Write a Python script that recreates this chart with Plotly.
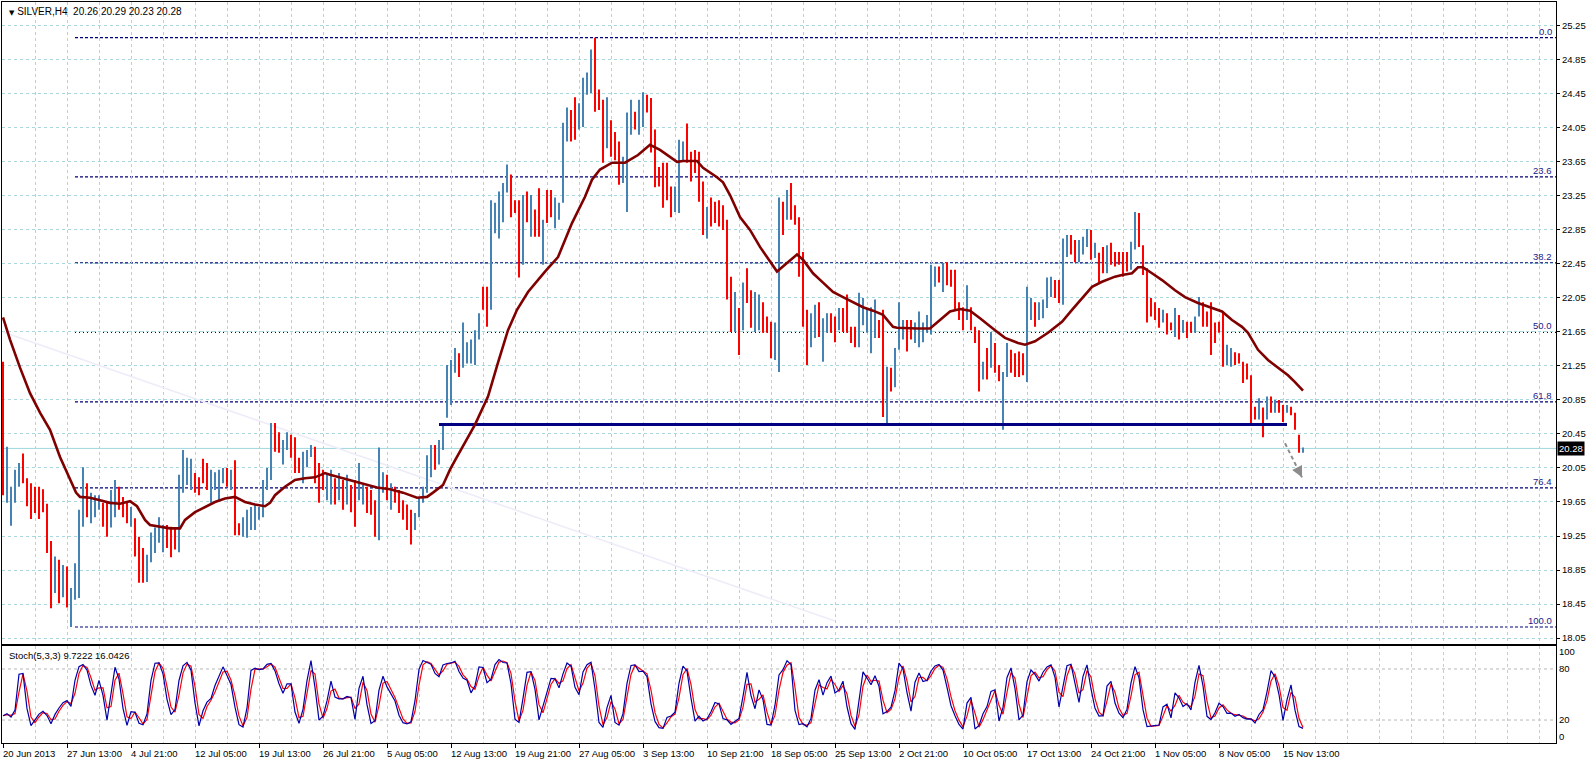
import numpy as np
import pandas as pd
import plotly.graph_objects as go

# ---------------- data (H4 bars merged in pairs) ----------------
symbol_title = "SILVER,H4"
last_ohlc = [20.26, 20.29, 20.23, 20.28]

highs = [
    21.30, 20.30, 19.83, 20.03, 20.11, 20.22, 19.93, 19.87, 19.83, 19.83,
    19.80, 19.63, 19.19, 19.01, 18.97, 18.91, 18.89, 18.64, 18.93, 19.56,
    20.06, 19.87, 19.76, 19.73, 19.73, 19.64, 19.64, 19.79, 19.91, 19.83,
    19.71, 19.64, 19.59, 19.46, 19.24, 19.11, 19.03, 19.29, 19.35, 19.47,
    19.38, 19.38, 19.36, 19.35, 19.97, 20.26, 20.17, 20.16, 19.99, 19.94,
    20.16, 20.11, 20.03, 20.00, 20.03, 20.05, 20.05, 20.03, 20.14, 19.40,
    19.47, 19.56, 19.59, 19.62, 19.59, 19.91, 20.05, 20.58, 20.58, 20.47,
    20.38, 20.47, 20.44, 20.41, 20.17, 20.24, 20.26, 20.32, 20.30, 20.11,
    20.03, 19.99, 20.03, 19.93, 19.99, 19.91, 19.97, 19.85, 19.91, 20.11,
    19.85, 19.83, 19.79, 19.67, 20.29, 20.00, 19.97, 19.87, 19.83, 19.79,
    19.67, 19.62, 19.56, 19.52, 19.71, 19.83, 20.20, 20.32, 20.32, 20.38,
    20.56, 21.26, 21.32, 21.46, 21.40, 21.76, 21.53, 21.56, 21.67, 21.87,
    22.18, 22.18, 23.20, 23.17, 23.30, 23.40, 23.62, 23.50, 23.20, 23.20,
    23.26, 23.30, 23.26, 23.09, 23.34, 22.97, 23.32, 23.32, 23.23, 23.17,
    24.11, 24.29, 24.26, 24.41, 24.34, 24.64, 24.70, 24.97, 25.11, 24.50,
    24.38, 24.41, 24.14, 24.00, 23.89, 23.71, 24.23, 24.38, 24.24, 24.38,
    24.47, 24.44, 24.40, 24.03, 23.59, 23.64, 23.64, 23.36, 23.36, 23.91,
    23.89, 24.10, 23.77, 23.79, 23.77, 23.42, 23.12, 23.23, 23.18, 23.20,
    23.14, 22.97, 22.30, 22.12, 21.93, 22.23, 22.40, 22.14, 22.12, 22.09,
    22.00, 21.83, 21.77, 21.76, 23.23, 23.18, 23.32, 23.40, 23.14, 23.00,
    22.59, 21.91, 21.87, 21.97, 22.00, 21.81, 21.87, 21.87, 21.83, 21.93,
    21.93, 22.09, 21.71, 21.71, 22.11, 22.05, 21.93, 21.94, 22.03, 21.79,
    21.91, 21.24, 21.23, 21.46, 22.00, 21.79, 21.79, 21.79, 21.76, 21.89,
    21.76, 21.85, 22.44, 22.42, 22.42, 22.46, 22.47, 22.38, 22.38, 22.00,
    21.94, 22.20, 21.94, 21.71, 21.67, 21.30, 21.46, 21.65, 21.52, 21.26,
    21.18, 21.52, 21.44, 21.40, 21.42, 21.40, 22.18, 22.05, 22.00, 22.00,
    22.03, 22.29, 22.30, 22.26, 22.26, 22.75, 22.79, 22.79, 22.73, 22.73,
    22.77, 22.86, 22.85, 22.70, 22.58, 22.65, 22.67, 22.70, 22.59, 22.59,
    22.59, 22.59, 22.71, 23.06, 23.05, 22.67, 22.40, 22.05, 22.00, 21.93,
    21.91, 21.87, 21.76, 21.93, 21.85, 21.79, 21.77, 21.77, 21.83, 22.06,
    22.00, 21.89, 22.00, 21.76, 21.77, 21.89, 21.50, 21.46, 21.41, 21.40,
    21.30, 21.28, 21.14, 20.77, 20.87, 20.76, 20.89, 20.89, 20.85, 20.85,
    20.79, 20.79, 20.77, 20.70, 20.44, 20.29,
]
lows = [
    19.73, 19.64, 19.37, 19.64, 19.83, 19.87, 19.60, 19.45, 19.52, 19.45,
    19.53, 19.05, 18.40, 18.58, 18.46, 18.53, 18.41, 18.18, 18.50, 18.52,
    19.36, 19.47, 19.40, 19.47, 19.56, 19.36, 19.24, 19.35, 19.47, 19.56,
    19.47, 19.40, 19.36, 19.01, 18.70, 18.70, 18.71, 18.94, 19.05, 19.17,
    19.06, 19.11, 19.00, 19.09, 19.06, 19.76, 19.85, 19.79, 19.76, 19.73,
    19.87, 19.79, 19.64, 19.79, 19.67, 19.87, 19.83, 19.79, 19.26, 19.26,
    19.24, 19.23, 19.32, 19.32, 19.44, 19.47, 19.79, 19.91, 20.24, 20.23,
    20.09, 20.26, 20.17, 19.99, 19.99, 19.87, 20.06, 20.18, 19.87, 19.64,
    19.79, 19.67, 19.62, 19.62, 19.67, 19.56, 19.62, 19.53, 19.36, 19.67,
    19.62, 19.52, 19.50, 19.24, 19.20, 19.76, 19.67, 19.56, 19.64, 19.52,
    19.44, 19.32, 19.15, 19.32, 19.47, 19.64, 19.76, 19.94, 20.03, 20.09,
    20.26, 20.64, 20.79, 21.17, 21.12, 21.23, 21.28, 21.28, 21.26, 21.56,
    21.91, 21.71, 21.91, 22.81, 22.75, 22.94, 23.29, 23.00, 23.05, 22.29,
    22.44, 22.94, 22.77, 22.77, 22.77, 22.44, 22.93, 23.00, 22.87, 22.97,
    23.17, 23.89, 23.89, 23.91, 24.03, 24.06, 24.44, 24.46, 24.24, 24.26,
    23.64, 23.81, 23.71, 23.67, 23.38, 23.40, 23.06, 23.97, 24.03, 23.97,
    24.06, 24.23, 23.76, 23.35, 23.36, 23.11, 23.20, 23.00, 23.06, 23.05,
    23.65, 23.64, 23.42, 23.52, 23.18, 22.79, 22.75, 22.89, 22.93, 22.89,
    22.85, 22.03, 21.65, 21.65, 21.38, 21.67, 21.99, 21.70, 21.65, 21.67,
    21.64, 21.64, 21.34, 21.32, 21.18, 22.79, 22.97, 22.97, 22.91, 22.30,
    21.71, 21.26, 21.47, 21.58, 21.59, 21.30, 21.64, 21.64, 21.53, 21.67,
    21.65, 21.64, 21.52, 21.47, 21.47, 21.73, 21.64, 21.40, 21.58, 21.58,
    20.65, 20.58, 20.95, 21.00, 21.44, 21.56, 21.42, 21.56, 21.52, 21.47,
    21.53, 21.64, 21.62, 22.18, 22.23, 22.12, 22.20, 22.18, 21.91, 21.79,
    21.67, 21.79, 21.67, 21.52, 20.95, 21.09, 21.09, 21.23, 21.17, 21.07,
    20.50, 21.12, 21.17, 21.12, 21.12, 21.14, 21.06, 21.79, 21.71, 21.79,
    21.81, 21.93, 22.06, 22.05, 21.99, 21.97, 22.53, 22.56, 22.47, 22.47,
    22.56, 22.65, 22.50, 22.52, 22.23, 22.34, 22.34, 22.44, 22.42, 22.44,
    22.30, 22.36, 22.38, 22.62, 22.65, 22.32, 21.76, 21.83, 21.79, 21.70,
    21.76, 21.62, 21.67, 21.59, 21.56, 21.64, 21.58, 21.64, 21.64, 21.83,
    21.71, 21.71, 21.38, 21.52, 21.64, 21.24, 21.26, 21.24, 21.26, 21.28,
    21.05, 21.09, 20.56, 20.62, 20.62, 20.41, 20.62, 20.70, 20.70, 20.70,
    20.59, 20.70, 20.67, 20.50, 20.23, 20.23,
]
# u = up (blue) bar, d = down (red) bar
dirs = ("duuuuddddd" "dddududuuu" "uduuudduud" "dduddduuuu" "uddduuuudd"
        "dduuuududd" "uuuuuuuudd" "uuddduuudd" "duudududdu" "uddduududd"
        "ddduuuuudu" "uuuuduuuuu" "dduuuuuddd" "ududdudduu" "uudduuuudd"
        "duddduuudu" "uddddddduu" "uddddduddd" "dddududduu" "ddduududdd"
        "dduuduuddu" "dddduuuuud" "duduuudduu" "uuuududddd" "dudddududd"
        "uudddduudu" "uuudduuddu" "uududduddd" "dduudddddd" "uddududduu"
        "dddddduudd" "ddddududud" "dudddu")

# moving average as drawn on the chart (bar position, value)
ma_pos = [0, 1.75, 4.25, 6.75, 9.25, 11.75, 14.25, 16.75, 18.25, 19.25, 21.75, 24.25, 26.75,
          29.25, 31.75, 33.5, 35.5, 36.75, 39.25, 41.75, 44.25, 45.5, 48, 50.5, 53, 55.5, 58,
          60.5, 63, 65.5, 66.75, 68, 70.5, 73, 75.5, 78, 80.5, 81.75, 86.75, 91, 93.5, 96.75,
          100, 103.5, 106, 107.5, 110, 111.75, 113, 118, 121.25, 123.75, 126.25, 128.5, 131.25,
          135.5, 138.75, 142.25, 145.5, 147.25, 149.25, 152.25, 155.5, 158.75, 161.75, 164.25,
          166.75, 168.5, 170, 173.5, 175, 178.5, 180, 181.75, 184.25, 186.75, 189.25, 191.75,
          193.5, 196, 198.5, 200, 202.5, 205, 207.5, 210, 212.5, 215, 217.5, 220, 222.5, 223.5,
          228.5, 231.75, 234.25, 236.75, 239.25, 241.75, 244.25, 245.5, 248, 250.5, 253.75,
          255.5, 258, 261.25, 264.75, 267.25, 269.75, 272.25, 274.75, 278, 279.75, 282.25,
          283.75, 285, 287.25, 289.75, 293, 295.5, 298.75, 302.25, 304.75, 307.25, 309.75,
          311.25, 313.75, 316.25, 318.75, 321.25, 323, 325]
ma_val = [21.82, 21.56, 21.23, 20.93, 20.70, 20.50, 20.18, 19.91, 19.76, 19.71, 19.70, 19.67,
          19.64, 19.63, 19.66, 19.60, 19.44, 19.38, 19.36, 19.34, 19.34, 19.44, 19.53, 19.59,
          19.65, 19.69, 19.71, 19.65, 19.62, 19.60, 19.64, 19.73, 19.83, 19.91, 19.93, 19.94,
          19.99, 19.97, 19.91, 19.85, 19.82, 19.80, 19.76, 19.70, 19.71, 19.76, 19.85, 20.03,
          20.14, 20.56, 20.89, 21.29, 21.67, 21.91, 22.12, 22.36, 22.53, 22.93, 23.24, 23.44,
          23.56, 23.64, 23.64, 23.73, 23.85, 23.79, 23.71, 23.65, 23.66, 23.66, 23.58, 23.47,
          23.41, 23.26, 23.00, 22.85, 22.65, 22.47, 22.36, 22.46, 22.56, 22.50, 22.34, 22.23,
          22.12, 22.06, 22.00, 21.94, 21.90, 21.85, 21.71, 21.70, 21.69, 21.69, 21.79, 21.89,
          21.92, 21.90, 21.81, 21.76, 21.67, 21.58, 21.52, 21.50, 21.54, 21.64, 21.77, 21.91,
          22.05, 22.18, 22.24, 22.30, 22.32, 22.34, 22.41, 22.41, 22.34, 22.26, 22.14, 22.06,
          21.99, 21.93, 21.89, 21.79, 21.71, 21.64, 21.44, 21.32, 21.23, 21.14, 21.06, 20.96]

tick_labels = ["20 Jun 2013", "27 Jun 13:00", "4 Jul 21:00", "12 Jul 05:00", "19 Jul 13:00",
               "26 Jul 21:00", "5 Aug 05:00", "12 Aug 13:00", "19 Aug 21:00", "27 Aug 05:00",
               "3 Sep 13:00", "10 Sep 21:00", "18 Sep 05:00", "25 Sep 13:00", "2 Oct 21:00",
               "10 Oct 05:00", "17 Oct 13:00", "24 Oct 21:00", "1 Nov 05:00", "8 Nov 05:00",
               "15 Nov 13:00"]
bars_per_label = 16
price_ticks = [18.05, 18.45, 18.85, 19.25, 19.65, 20.05, 20.45, 20.85, 21.25, 21.65, 22.05,
               22.45, 22.85, 23.25, 23.65, 24.05, 24.45, 24.85, 25.25]
stoch_ticks = [0, 20, 80, 100]
stoch_levels = [20, 80]
stoch_label = "Stoch(5,3,3) 9.7222 16.0426"

fib_levels = [0.0, 23.6, 38.2, 50.0, 61.8, 76.4, 100.0]
fib_start_bar = 18
support_level = 20.56
support_bars = [109, 321]
trend_bars = [0, 208]
trend_prices = [21.65, 18.25]
arrow_bars = [320.5, 324.75]
arrow_prices = [20.34, 19.94]

# ---------------- derived ----------------
n = min(len(highs), len(lows), len(dirs))
H = np.array(highs[:n]); L = np.array(lows[:n])
up = np.array([c == "u" for c in dirs[:n]])
idx = np.arange(n)
# closing level inside each bar estimated from its direction (upper / lower part)
C = np.where(up, L + 0.75 * (H - L), L + 0.25 * (H - L))
C[-1] = last_ohlc[3]

hs, ls, cs = pd.Series(H), pd.Series(L), pd.Series(C)
kp, slow, dp = 3, 2, 2
LL = ls.rolling(kp, min_periods=1).min()
HH = hs.rolling(kp, min_periods=1).max()
K = 100 * (cs - LL).rolling(slow, min_periods=1).sum() / (HH - LL).rolling(slow, min_periods=1).sum()
D = K.rolling(dp, min_periods=1).mean()

x_range = [-0.25, 388.25]
grid_pos = list(range(0, 389, 8))
tick_pos = [k * bars_per_label for k in range(len(tick_labels))]

GRID = "#a8d8de"
FONT = "Liberation Sans"
UPC, DNC = "#4682b4", "#ff0000"


def segments(mask):
    xs, ys = [], []
    for i in np.where(mask)[0]:
        xs += [i, i, None]
        ys += [L[i], H[i], None]
    return xs, ys


fig = go.Figure()

# faint trend line
fig.add_trace(go.Scatter(x=trend_bars, y=trend_prices, mode="lines",
                         line=dict(color="#eeecf9", width=1.5), hoverinfo="skip",
                         xaxis="x", yaxis="y"))

ux, uy = segments(up)
dx, dy = segments(~up)
fig.add_trace(go.Scatter(x=ux, y=uy, mode="lines", line=dict(color=UPC, width=2),
                         hoverinfo="skip", xaxis="x", yaxis="y"))
fig.add_trace(go.Scatter(x=dx, y=dy, mode="lines", line=dict(color=DNC, width=2),
                         hoverinfo="skip", xaxis="x", yaxis="y"))

# support line
fig.add_trace(go.Scatter(x=support_bars, y=[support_level, support_level], mode="lines",
                         line=dict(color="#000080", width=3), hoverinfo="skip",
                         xaxis="x", yaxis="y"))

# moving average
fig.add_trace(go.Scatter(x=ma_pos, y=ma_val, mode="lines",
                         line=dict(color="#800000", width=2.6), hoverinfo="skip",
                         xaxis="x", yaxis="y"))

# dashed projection arrow
fig.add_trace(go.Scatter(x=arrow_bars, y=arrow_prices, mode="lines",
                         line=dict(color="#8c8c8c", width=2, dash="4px,3px"), hoverinfo="skip",
                         xaxis="x", yaxis="y"))

# stochastic
fig.add_trace(go.Scatter(x=idx, y=D, mode="lines", line=dict(color="#ff0000", width=1.2),
                         hoverinfo="skip", xaxis="x2", yaxis="y2"))
fig.add_trace(go.Scatter(x=idx, y=K, mode="lines", line=dict(color="#0000a8", width=1.2),
                         hoverinfo="skip", xaxis="x2", yaxis="y2"))

shapes = []
hi, lo = float(H.max()), float(L.min())
annotations = []
for lvl in fib_levels:
    p = hi - lvl / 100.0 * (hi - lo)
    dash = "1px,3px" if lvl == 50.0 else "3px,2px"
    shapes.append(dict(type="line", xref="x", yref="y", x0=fib_start_bar, x1=x_range[1],
                       y0=p, y1=p, line=dict(color="#00007a", width=1.2, dash=dash), layer="below"))
    annotations.append(dict(xref="paper", yref="y", x=1, y=p, xanchor="right", yanchor="bottom",
                            xshift=-2, yshift=-1, text=f"{lvl:.1f}", showarrow=False,
                            font=dict(family=FONT, size=9.5, color="#20208c")))

# current price line
shapes.append(dict(type="line", xref="paper", yref="y", x0=0, x1=1, y0=last_ohlc[3], y1=last_ohlc[3],
                   line=dict(color="#9fd6dd", width=1), layer="below"))
for lv in stoch_levels:
    shapes.append(dict(type="line", xref="paper", yref="y2", x0=0, x1=1, y0=lv, y1=lv,
                       line=dict(color="#b8b8b8", width=1, dash="3px,3px"), layer="below"))

# arrow head
annotations.append(dict(x=arrow_bars[1], y=arrow_prices[1], ax=arrow_bars[1] - 0.9,
                        ay=arrow_prices[1] + 0.085, xref="x", yref="y", axref="x", ayref="y",
                        showarrow=True, arrowhead=2, arrowsize=1.1, arrowwidth=2,
                        arrowcolor="#8c8c8c", text=""))

annotations.append(dict(xref="paper", yref="y", x=1, y=last_ohlc[3], xanchor="left", yanchor="middle",
                        xshift=1, text=f"{last_ohlc[3]:.2f}", showarrow=False, bgcolor="#000000",
                        borderpad=1, font=dict(family=FONT, size=9.5, color="#ffffff")))

annotations.append(dict(xref="paper", yref="paper", x=0.0032, y=1, xanchor="left", yanchor="top",
                        yshift=-2, showarrow=False,
                        text=("<span style='font-family:DejaVu Sans;font-size:7px'>▼</span> "
                              + symbol_title + "\u00a0\u00a0" + " ".join(f"{v:.2f}" for v in last_ohlc)),
                        font=dict(family=FONT, size=10, color="#000000")))
annotations.append(dict(xref="paper", yref="y2 domain", x=0.0032, y=1, xanchor="left", yanchor="top",
                        yshift=-2, showarrow=False, text=stoch_label,
                        font=dict(family=FONT, size=9.5, color="#000000")))
for tp, tl in zip(tick_pos, tick_labels):
    annotations.append(dict(xref="x2", yref="paper", x=tp, y=0, xanchor="left", yanchor="top",
                            xshift=-2, yshift=-3, showarrow=False, text=tl,
                            font=dict(family=FONT, size=9.5, color="#000000")))

W, Hh = 1596, 762
ml, mr, mt, mb = 2, 40, 2, 19
ph = Hh - mt - mb
main_dom = [(743 - 644) / ph, 1.0]
stoch_dom = [0.0, (743 - 646) / ph]

fig.update_layout(
    width=W, height=Hh, autosize=False,
    margin=dict(l=ml, r=mr, t=mt, b=mb, pad=0),
    paper_bgcolor="#ffffff", plot_bgcolor="#ffffff",
    showlegend=False,
    shapes=shapes, annotations=annotations,
    font=dict(family=FONT, size=9.5, color="#000000"),
    xaxis=dict(domain=[0, 1], anchor="y", range=x_range, tickvals=grid_pos, showticklabels=False,
               ticks="", showgrid=True, gridcolor=GRID, griddash="3px,3px", gridwidth=1,
               showline=True, mirror=True, linecolor="#000000", linewidth=1, zeroline=False),
    yaxis=dict(domain=main_dom, anchor="x", side="right", range=[17.98, 25.53],
               tickvals=price_ticks, tickformat=".2f", ticks="outside", ticklen=3,
               tickcolor="#000000", showgrid=True, gridcolor=GRID, griddash="3px,3px",
               showline=True, mirror=True, linecolor="#000000", linewidth=1, zeroline=False,
               tickfont=dict(family=FONT, size=9.5, color="#000000")),
    xaxis2=dict(domain=[0, 1], anchor="y2", range=x_range, matches="x", tickvals=tick_pos,
                showticklabels=False, ticks="outside", ticklen=4, tickcolor="#000000",
                showgrid=True, gridcolor=GRID, griddash="3px,3px",
                minor=dict(tickvals=grid_pos, showgrid=True, gridcolor=GRID, griddash="3px,3px",
                           ticks=""),
                showline=True, mirror=True, linecolor="#000000", linewidth=1, zeroline=False),
    yaxis2=dict(domain=stoch_dom, anchor="x2", side="right", range=[-7, 107], tickvals=stoch_ticks,
                ticks="", showgrid=False, showline=True, mirror=True, linecolor="#000000",
                linewidth=1, zeroline=False, tickfont=dict(family=FONT, size=9.5, color="#000000")),
)

fig.write_html("out.html", config={"displayModeBar": False},
               post_script="document.body.style.margin='0';document.body.style.overflow='hidden';")
